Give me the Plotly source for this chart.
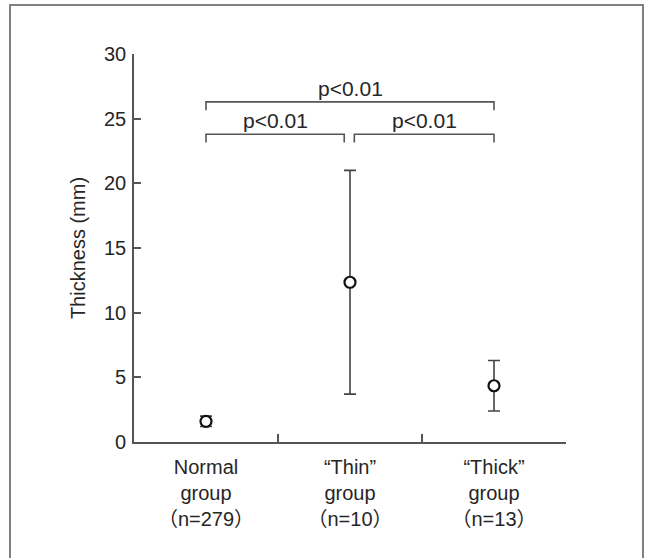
import plotly.graph_objects as go

categories = ["Normal<br>group<br>（n=279）", "“Thin”<br>group<br>（n=10）", "“Thick”<br>group<br>（n=13）"]
means = [1.6, 12.35, 4.35]
errs = [0.4, 8.65, 1.95]
y_ticks = [0, 5, 10, 15, 20, 25, 30]

# significance brackets: (x_left, x_right, y_level, label)
brackets = [
    (0.0, 2.0, 26.3, "p<0.01"),
    (0.0, 0.96, 23.8, "p<0.01"),
    (1.03, 2.0, 23.8, "p<0.01"),
]
bracket_drop = 0.65
label_gap = 1.05

FONT = "Liberation Sans, Arial, Noto Sans CJK JP, sans-serif"
INK = "#262626"
LINE = "#555555"

xpos = list(range(len(categories)))

fig = go.Figure()
fig.add_trace(go.Scatter(
    x=xpos, y=means, mode="markers",
    marker=dict(symbol="circle", size=11, color="white",
                line=dict(color="#111111", width=2.2)),
    error_y=dict(type="data", array=errs, visible=True,
                 color="#444444", thickness=1.6, width=6),
    showlegend=False, hoverinfo="skip",
))
# invisible trace on second x axis for the boundary tick marks
fig.add_trace(go.Scatter(x=[-0.5, 2.5], y=[0, 0], xaxis="x2", mode="markers",
                         marker=dict(opacity=0), showlegend=False, hoverinfo="skip"))

for x0, x1, yl, lab in brackets:
    fig.add_shape(type="path",
                  path=f"M {x0},{yl - bracket_drop} L {x0},{yl} L {x1},{yl} L {x1},{yl - bracket_drop}",
                  line=dict(color=LINE, width=1.6), xref="x", yref="y")
    fig.add_annotation(x=(x0 + x1) / 2, y=yl + label_gap, text=lab, showarrow=False,
                       font=dict(family=FONT, size=21, color=INK), xref="x", yref="y")

# outer frame
L, R, T, B = 134, 566, 54, 442
W, H = R - L, B - T
def px(v): return (v - L) / W
def py(v): return (B - v) / H
fig.add_shape(type="rect", xref="paper", yref="paper",
              x0=px(10), x1=px(643), y0=py(562), y1=py(5),
              line=dict(color="#808080", width=2), fillcolor="rgba(0,0,0,0)")

fig.update_layout(
    width=645, height=558,
    margin=dict(l=L, r=645 - R, t=T, b=558 - B),
    paper_bgcolor="white", plot_bgcolor="white",
    font=dict(family=FONT, size=20, color=INK),
    xaxis=dict(range=[-0.5, 2.5], tickmode="array", tickvals=xpos, ticktext=categories,
               ticks="", showline=True, linecolor=LINE, linewidth=1.6, ticklabelstandoff=6,
               showgrid=False, zeroline=False, tickfont=dict(size=20, color=INK)),
    xaxis2=dict(range=[-0.5, 2.5], overlaying="x", side="bottom", anchor="y",
                tickmode="array", tickvals=[0.5, 1.5, 2.5], showticklabels=False,
                ticks="inside", ticklen=8, tickwidth=1.6, tickcolor=LINE,
                showline=False, showgrid=False, zeroline=False),
    yaxis=dict(range=[0, 30], tickmode="array", tickvals=y_ticks,
               ticks="inside", ticklen=7, tickwidth=1.6, tickcolor=LINE,
               showline=True, linecolor=LINE, linewidth=1.6,
               showgrid=False, zeroline=False, ticklabelstandoff=2,
               title=dict(text="Thickness (mm)", font=dict(size=20, color=INK), standoff=13),
               tickfont=dict(size=20, color=INK)),
)

fig.write_html("out.html")
